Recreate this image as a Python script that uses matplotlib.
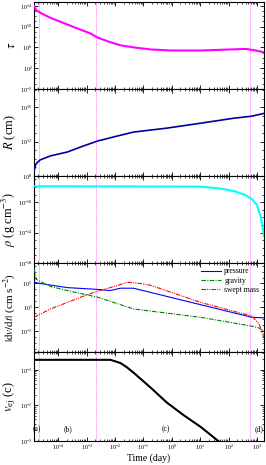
import numpy as np
import matplotlib
matplotlib.use("Agg")
import matplotlib.pyplot as plt
from matplotlib.ticker import FixedLocator, LogLocator, NullFormatter, LogFormatterMathtext

plt.rcParams['font.family'] = ['Liberation Serif', 'DejaVu Serif']
plt.rcParams['mathtext.fontset'] = 'stix'

# ---- data (log10 time in days, log10 value) ----
tau_logt = [-4.85, -4.78, -4.64, -4.28, -3.93, -3.40, -2.87, -2.62, -2.17, -1.81, -1.35, -0.75, -0.04, 1.02, 2.08, 2.61, 2.96, 3.28]
tau_logv = [14.0, 13.2, 12.7, 11.7, 10.95, 9.8, 8.7, 7.9, 7.0, 6.4, 6.0, 5.6, 5.4, 5.4, 5.6, 5.7, 5.4, 5.0]

R_logt = [-4.85, -4.80, -4.74, -4.64, -4.28, -3.68, -3.15, -2.62, -1.99, -1.35, -0.18, 1.02, 2.18, 2.82, 3.28]
R_logv = [8.6, 9.3, 9.55, 9.86, 10.33, 10.79, 11.45, 12.07, 12.6, 13.12, 13.58, 14.16, 14.74, 14.98, 15.33]

rho_logt = [-4.85, 1.02, 1.72, 2.25, 2.61, 2.82, 3.00, 3.14, 3.25]
rho_logv = [-7.9, -7.95, -8.2, -8.6, -9.1, -9.6, -10.4, -12.0, -14.5]

press_logt = [-4.85, -4.64, -3.68, -2.62, -2.17, -1.81, -1.35, 2.82, 3.28]
press_logv = [5.2, 5.0, 4.3, 4.0, 3.8, 4.2, 4.2, -0.7, -0.8]

grav_logt = [-4.85, -4.78, -4.28, -3.68, -2.62, -1.35, 1.02, 2.82, 3.07, 3.28]
grav_logv = [7.5, 5.7, 4.5, 3.8, 2.7, 0.7, -0.7, -2.2, -2.5, -3.2]

swept_logt = [-4.85, -4.28, -3.68, -3.15, -2.62, -2.17, -1.56, -1.10, -0.75, 1.02, 2.82, 3.07, 3.21, 3.28]
swept_logv = [-0.7, 0.7, 1.8, 2.8, 3.7, 4.3, 5.2, 5.0, 4.7, 1.8, -0.5, -1.8, -3.5, -5.5]

vej_logt = [-4.85, -2.16, -1.81, -1.60, -1.35, -0.75, -0.18, 0.42, 1.02, 1.58, 1.80]
vej_logv = [-0.72, -0.72, -0.81, -0.92, -1.08, -1.5, -1.92, -2.28, -2.61, -2.97, -3.1]

phase_lines = [2.1e-5, 2.2e-3, 5.5e2, 1.75e3]
phase_labels = ['(a)', '(b)', '(c)', '(d)']
phase_label_t = [1.8e-5, 2.2e-4, 0.6, 1.2e3]

xlim = (1.4e-5, 1.75e3)
xticks = [1e-4, 1e-3, 1e-2, 1e-1, 1e0, 1e1, 1e2, 1e3]

def p(a):
    return 10.0 ** np.asarray(a)

fig = plt.figure(figsize=(2.66, 4.65), dpi=100)
gs = fig.add_gridspec(5, 1, left=0.128, right=0.992, top=0.996, bottom=0.052,
                      hspace=0, height_ratios=[87, 87, 87, 89, 89])
axes = [fig.add_subplot(gs[i]) for i in range(5)]

pink = '#ff80ff'
for ax in axes:
    ax.set_xscale('log')
    ax.set_yscale('log')
    ax.set_xlim(*xlim)
    for t in phase_lines:
        ax.axvline(t, color=pink, lw=0.5, ls=(0, (2.5, 0.8)), zorder=1)
    ax.tick_params(which='both', direction='in', top=True, right=True, labelsize=4.3, pad=1.2)
    ax.tick_params(which='major', length=3, width=0.6)
    ax.tick_params(which='minor', length=1.6, width=0.5)
    ax.xaxis.set_major_locator(FixedLocator(xticks))
    ax.xaxis.set_minor_locator(LogLocator(base=10, subs=np.arange(2, 10), numticks=30))
    for s in ax.spines.values():
        s.set_linewidth(0.8)
    if ax is not axes[-1]:
        ax.set_xticklabels([])

def yaxis(ax, lo, hi, majors, minors):
    ax.set_ylim(lo, hi)
    ax.yaxis.set_major_locator(FixedLocator(majors))
    ax.yaxis.set_major_formatter(LogFormatterMathtext())
    ax.yaxis.set_minor_locator(FixedLocator(minors))
    ax.yaxis.set_minor_formatter(NullFormatter())

# tau
ax = axes[0]
ax.plot(p(tau_logt), p(tau_logv), color='magenta', lw=1.5, zorder=3)
yaxis(ax, 1e-2, 6e14, [1e-2, 1e2, 1e6, 1e10, 1e14], [10.0 ** k for k in range(-2, 15)])
ax.set_ylabel(r'$\tau$', fontsize=9)

# R
ax = axes[1]
ax.plot(p(R_logt), p(R_logv), color='#0000a0', lw=1.2, zorder=3)
yaxis(ax, 1e8, 1.5e18, [1e8, 1e12, 1e16], [10.0 ** k for k in range(8, 19)])
ax.set_ylabel(r'$R$ (cm)', fontsize=9)

# rho
ax = axes[2]
ax.plot(p(rho_logt), p(rho_logv), color='cyan', lw=1.5, zorder=3)
yaxis(ax, 1e-18, 3e-7, [1e-18, 1e-14, 1e-10], [10.0 ** k for k in range(-18, -6)])
ax.set_ylabel(r'$\rho$ (g cm$^{-3}$)', fontsize=9)

# dv/dt
ax = axes[3]
ax.plot(p(press_logt), p(press_logv), color='blue', lw=0.8, label='pressure', zorder=3)
ax.plot(p(grav_logt), p(grav_logv), color='green', lw=0.8, ls=(0, (4, 1.2, 1, 1.2)), label='gravity', zorder=3)
ax.plot(p(swept_logt), p(swept_logv), color='red', lw=0.8, ls=(0, (4, 1, 1, 1, 1, 1)), label='swept mass', zorder=3)
yaxis(ax, 3e-7, 3e8, [1e-3, 1e1, 1e5], [10.0 ** k for k in range(-6, 9)])
ax.set_ylabel(r'$|\mathrm{d}v/\mathrm{d}t|$ (cm s$^{-2}$)', fontsize=8)
leg = ax.legend(loc='upper right', fontsize=5.5, frameon=False, handlelength=2.6,
                borderaxespad=0.2, labelspacing=0.15, handletextpad=0.4)

# v_ej
ax = axes[4]
ax.plot(p(vej_logt), p(vej_logv), color='black', lw=1.5, zorder=3)
yaxis(ax, 1e-3, 3.2e-1, [1e-3, 1e-2, 1e-1],
      [m * 10.0 ** k for k in range(-3, 0) for m in range(1, 10)])
ax.set_ylabel(r'$v_{\rm ej}$ (c)', fontsize=9)
ax.set_xlabel('Time (day)', fontsize=7, labelpad=1)
ax.xaxis.set_major_formatter(LogFormatterMathtext())
for t, lab in zip(phase_label_t, phase_labels):
    ax.text(t, 2.1e-3, lab, fontsize=5.5, ha='center', va='center')

for ax in axes:
    ax.yaxis.set_label_coords(-0.072, 0.5)

fig.savefig('out.png', dpi=100)
